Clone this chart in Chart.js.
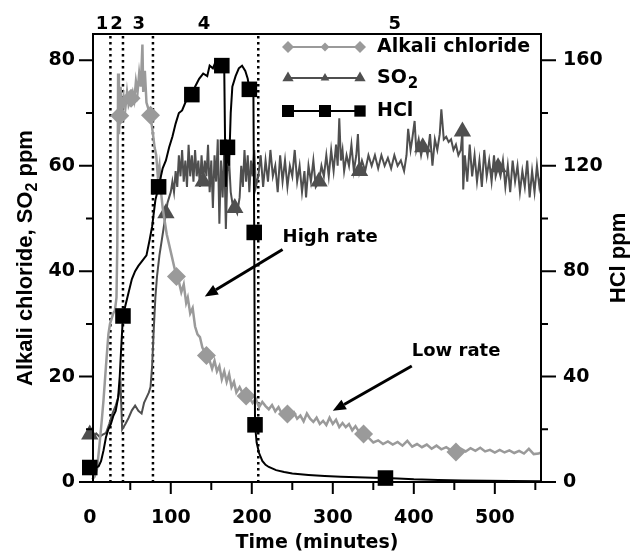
<!DOCTYPE html>
<html>
<head>
<meta charset="utf-8">
<script src="https://cdn.jsdelivr.net/npm/chart.js@4.4.1/dist/chart.umd.min.js"></script>
<style>
  html, body { margin: 0; padding: 0; background: #fff; }
  #wrap { width: 632px; height: 554px; }
</style>
</head>
<body>
<div id="wrap"><canvas id="chart" width="632" height="554"></canvas></div>
<script>
// ---- data ----
const seriesNames = ['Alkali chloride', 'SO2', 'HCl'];

const alkaliT = [0, 3, 6, 9, 12, 15, 17, 20, 23, 25,
  27, 29, 31, 33, 34, 35, 36, 37, 38, 40,
  42, 44, 46, 48, 51, 53, 55, 57, 59, 61,
  63, 65, 66, 68, 70, 72, 75, 78, 80, 82,
  84, 86, 88, 90, 92, 95, 98, 101, 104, 107,
  110, 113, 116, 119, 121, 124, 127, 130, 133, 136,
  139, 144, 148, 151, 154, 157, 160, 163, 166, 169,
  172, 175, 178, 181, 185, 189, 193, 197, 201, 205,
  209, 213, 217, 221, 225, 229, 233, 237, 241, 244,
  248, 252, 256, 260, 264, 268, 272, 276, 280, 284,
  288, 292, 296, 300, 304, 308, 312, 316, 320, 324,
  328, 332, 338, 344, 350, 356, 362, 368, 374, 380,
  386, 392, 398, 404, 410, 416, 422, 428, 434, 440,
  446, 452, 458, 464, 470, 476, 482, 488, 494, 500,
  506, 512, 518, 524, 530, 536, 542, 548, 554, 557];
const alkaliV = [0, 0.5, 1, 2.5, 7, 12, 15.6, 22, 28, 30,
  31, 32, 32.5, 35, 45, 77.5, 66, 69.5, 75, 70,
  73, 71, 74, 71.5, 72.8, 74, 72.5, 76, 74, 77.5,
  75, 83, 74, 78, 72, 71, 69.6, 66, 63.5, 62,
  58, 60, 55, 52, 50, 47, 45, 43, 41, 39,
  38, 36, 37.5, 34, 35, 32, 33, 29.5, 28, 27.5,
  25.5, 24, 23, 21.5, 23, 21, 22, 19.5, 21, 19,
  20.5, 18, 19, 17, 18, 16.8, 16.3, 16, 15, 15.8,
  14.2, 15.2, 14.4, 13.8, 14.6, 13.4, 14.2, 13, 13.6, 12.9,
  12.5, 13.2, 12, 12.6, 11.5, 13, 12, 11.4, 12.2, 11,
  11.6, 10.8, 12.2, 11, 11.8, 10.4, 11.2, 10.4, 11, 9.8,
  10.6, 9.6, 9.1, 8.4, 7.5, 7.9, 7.2, 7.7, 7.1, 7.6,
  6.9, 7.8, 6.7, 7.2, 6.6, 7.1, 6.3, 6.9, 6.2, 6.6,
  6, 5.7, 6.3, 5.8, 6.4, 5.9, 6.5, 5.8, 6.1, 5.6,
  6.1, 5.6, 6, 5.5, 5.9, 5.4, 6.3, 5.3, 5.4, 5.6];
const alkaliMarkT = [0, 37, 51, 75, 107, 144, 193, 244, 338, 452];

const so2T = [0, 4, 8, 12, 16, 20, 24, 28, 32, 35,
  38, 40, 44, 48, 52, 56, 60, 64, 67, 70,
  73, 75, 77, 79, 81, 83, 86, 89, 92, 94,
  96, 98, 100, 102, 104, 106, 108, 110, 112, 114,
  116, 118, 120, 122, 124, 126, 128, 130, 132, 134,
  136, 138, 140, 142, 144, 146, 148, 150, 152, 154,
  156, 158, 160, 162, 164, 166, 168, 170, 172, 174,
  176, 179, 182, 185, 187, 189, 191, 193, 195, 197,
  199, 201, 203, 205, 208, 211, 214, 217, 220, 223,
  226, 229, 232, 235, 238, 241, 244, 247, 250, 253,
  256, 259, 262, 265, 267, 270, 273, 276, 279, 283,
  286, 289, 292, 295, 298, 301, 304, 306, 308, 310,
  312, 314, 317, 320, 323, 326, 329, 331, 333, 336,
  340, 344, 348, 352, 356, 360, 364, 368, 372, 376,
  380, 384, 388, 391, 393, 396, 398, 401, 403, 406,
  409, 411, 414, 417, 420, 423, 426, 429, 432, 434,
  437, 440, 443, 446, 449, 452, 455, 458, 460, 461,
  463, 466, 469, 472, 475, 478, 481, 484, 487, 490,
  493, 496, 499, 501, 504, 507, 510, 513, 516, 519,
  522, 525, 528, 531, 534, 537, 540, 543, 546, 549,
  552, 555, 557];
const so2V = [9, 8.5, 9.2, 8.6, 9, 9.3, 11, 13, 14.5, 16,
  18.4, 10, 11, 12.2, 13.6, 14.5, 13.5, 13, 15, 16,
  17, 18, 22, 29, 35, 39, 43, 46, 49, 51,
  53, 54, 55, 57, 55, 59, 56, 62, 58, 63,
  57, 61, 56, 64, 58, 62, 57, 63, 58, 61,
  56, 62, 57, 61, 58, 64, 55, 61, 52, 62,
  57, 65, 49, 61, 54, 63, 48, 59, 61, 55,
  53, 52, 51, 54, 60, 56, 63, 57, 62, 55,
  61, 58, 63, 56, 58, 62, 56, 61, 57, 63,
  58, 60, 55, 62, 57, 61, 56, 60, 58, 63,
  57, 60, 55, 59, 54, 60, 57, 61, 56, 57,
  60, 58, 62, 58, 63, 59, 64, 60, 69, 61,
  63, 59, 62, 60, 64, 59, 62, 66, 59, 61,
  59, 62, 60, 62, 59.5, 62, 60, 61.5, 59.5, 62,
  60, 61, 59, 62, 67, 63, 65, 68.5, 63, 65,
  62, 63.5, 64, 62, 66, 60, 65, 63, 66, 70.7,
  65, 65.5, 64.5, 65, 63, 64, 62, 63, 66.5, 55.5,
  62, 57, 64, 58, 62, 57, 61, 56, 63, 58,
  61, 57, 62, 58, 59.7, 58, 61, 56, 60, 55,
  61, 57, 60, 55, 59, 56, 61, 54, 59, 55,
  60, 56, 58];
const so2MarkT = [0, 94, 140, 179, 283, 333, 411, 460, 504];

const hclT = [0, 4, 8, 11, 14, 17, 20, 23, 26, 29,
  32, 35, 37, 39, 41, 44, 48, 52, 56, 60,
  65, 70, 74, 77, 81, 85, 90, 94, 98, 102,
  106, 110, 114, 118, 122, 126, 130, 135, 140, 145,
  148, 152, 156, 160, 163, 166, 167, 168, 170, 172,
  174, 176, 180, 184, 188, 192, 195, 197, 200, 202,
  203, 204, 206, 209, 213, 217, 221, 230, 240, 250,
  270, 290, 310, 330, 350, 365, 380, 400, 430, 460,
  490, 520, 557];
const hclV = [5.5, 5, 5.5, 6, 8, 12, 17, 20, 22, 25,
  27, 32, 40, 52, 63, 67, 72, 77, 80, 82,
  84, 86, 92, 97, 107, 112, 119, 122, 127, 131,
  136, 140, 141, 144, 146, 147, 150, 153, 155, 154,
  158, 157, 160, 159, 158, 157, 130, 112, 127, 120,
  140, 150, 154, 157, 158, 156, 153, 149, 150, 148,
  94.7, 21.7, 15, 11, 8, 6.5, 5.7, 4.5, 3.8, 3.2,
  2.7, 2.3, 2, 1.8, 1.6, 1.5, 1.3, 1, 0.8, 0.6,
  0.5, 0.4, 0.3];
const hclMarkT = [0, 41, 85, 126, 163, 170, 197, 203, 204, 365];

const xTicks = [0, 100, 200, 300, 400, 500];
const xMinorTicks = [50, 150, 250, 350, 450, 550];
const leftTicks = [0, 20, 40, 60, 80];
const leftMinorTicks = [10, 30, 50, 70];
const rightTicks = [0, 40, 80, 120, 160];
const rightMinorTicks = [20, 60, 100, 140];

const phaseLabels = ['1', '2', '3', '4', '5'];
const phaseLabelT = [15, 33, 60.5, 141, 376.5];
const phaseDividerT = [25.5, 41, 78, 208];

const colors = { alkali: '#9a9a9a', so2: '#4f4f4f', hcl: '#000000' };

const tickFont = { family: 'DejaVu Sans', weight: 'bold', size: 19 };

function makeSeries(ts, vs) {
    return ts.map((t, i) => ({ x: t, y: vs[i] }));
}

function markerRadius(list, r) {
    return ctx => (ctx.raw && list.includes(ctx.raw.x)) ? r : 0;
}

// drawing of the frame, minor ticks, legend, titles and notes
const decorPlugin = {
    id: 'decor',
    beforeDatasetsDraw(chart) {
        const { ctx, chartArea: a, scales } = chart;
        ctx.save();
        ctx.strokeStyle = '#000';
        ctx.lineWidth = 2.5;
        ctx.setLineDash([2.5, 3.5]);
        phaseDividerT.forEach(t => {
            const x = scales.x.getPixelForValue(t);
            ctx.beginPath();
            ctx.moveTo(x, a.top + 2);
            ctx.lineTo(x, a.bottom);
            ctx.stroke();
        });
        ctx.restore();
    },
    afterDraw(chart) {
        const { ctx, chartArea: a, scales } = chart;
        const sx = scales.x, sy = scales.y, sy2 = scales.y2;
        ctx.save();

        // frame
        ctx.strokeStyle = '#000';
        ctx.lineWidth = 2;
        ctx.strokeRect(a.left, a.top, a.right - a.left, a.bottom - a.top);

        // tick marks
        ctx.lineWidth = 2;
        ctx.beginPath();
        leftTicks.forEach(v => { const y = sy.getPixelForValue(v); ctx.moveTo(a.left, y); ctx.lineTo(a.left - 14, y); });
        leftMinorTicks.forEach(v => { const y = sy.getPixelForValue(v); ctx.moveTo(a.left, y); ctx.lineTo(a.left - 7, y); });
        rightTicks.forEach(v => { const y = sy2.getPixelForValue(v); ctx.moveTo(a.right, y); ctx.lineTo(a.right + 15, y); });
        rightMinorTicks.forEach(v => { const y = sy2.getPixelForValue(v); ctx.moveTo(a.right, y); ctx.lineTo(a.right + 7, y); });
        xTicks.forEach(v => { if (v < sx.min) return; const x = sx.getPixelForValue(v); ctx.moveTo(x, a.bottom); ctx.lineTo(x, a.bottom + 12); });
        xMinorTicks.forEach(v => { const x = sx.getPixelForValue(v); ctx.moveTo(x, a.bottom); ctx.lineTo(x, a.bottom + 8); });
        ctx.stroke();

        // phase numbers above the plot
        ctx.fillStyle = '#000';
        ctx.font = 'bold 18px "DejaVu Sans"';
        ctx.textAlign = 'center';
        ctx.textBaseline = 'middle';
        phaseLabels.forEach((lab, i) => {
            ctx.fillText(lab, sx.getPixelForValue(phaseLabelT[i]), 24);
        });

        // x axis title
        ctx.font = 'bold 19px "DejaVu Sans"';
        ctx.fillText('Time (minutes)', (a.left + a.right) / 2, 543);

        // legend
        const legendRows = [
            { name: seriesNames[0], color: colors.alkali, style: 'rectRot', r: [6, 4.5, 6], y: 47 },
            { name: seriesNames[1], color: colors.so2, style: 'triangle', r: [6.5, 5, 6.5], y: 78 },
            { name: seriesNames[2], color: colors.hcl, style: 'rect', r: [8.5, 8.5, 8], y: 111 }
        ];
        const lx = [288, 325, 360];
        legendRows.forEach(row => {
            ctx.strokeStyle = row.color;
            ctx.fillStyle = row.color;
            ctx.lineWidth = 2;
            ctx.beginPath();
            ctx.moveTo(lx[0], row.y);
            ctx.lineTo(lx[2], row.y);
            ctx.stroke();
            lx.forEach((x, k) => {
                Chart.helpers.drawPoint(ctx, { pointStyle: row.style, radius: row.r[k], rotation: 0, borderWidth: 0 }, x, row.y);
            });
            ctx.fillStyle = '#000';
            ctx.textAlign = 'left';
            ctx.textBaseline = 'middle';
            ctx.font = 'bold 19px "DejaVu Sans"';
            if (row.name === 'SO2') {
                ctx.fillText('SO', 377, row.y);
                const w = ctx.measureText('SO').width;
                ctx.font = 'bold 15px "DejaVu Sans"';
                ctx.fillText('2', 377 + w + 1, row.y + 6);
            } else {
                ctx.fillText(row.name, 377, row.y);
            }
        });

        // left axis title with subscript
        const parts = [
            { t: 'Alkali chloride, SO', f: 'bold 22px "Liberation Sans"', dy: 0 },
            { t: '2', f: 'bold 16px "Liberation Sans"', dy: 5 },
            { t: ' ppm', f: 'bold 22px "Liberation Sans"', dy: 0 }
        ];
        let total = 0;
        parts.forEach(p => { ctx.font = p.f; p.w = ctx.measureText(p.t).width; total += p.w; });
        ctx.save();
        ctx.translate(32, (a.top + a.bottom) / 2);
        ctx.rotate(-Math.PI / 2);
        ctx.textAlign = 'left';
        ctx.textBaseline = 'alphabetic';
        let px = -total / 2;
        parts.forEach(p => { ctx.font = p.f; ctx.fillText(p.t, px, p.dy); px += p.w; });
        ctx.restore();

        // right axis title
        ctx.save();
        ctx.translate(625, (a.top + a.bottom) / 2);
        ctx.rotate(-Math.PI / 2);
        ctx.font = 'bold 22px "Liberation Sans"';
        ctx.textAlign = 'center';
        ctx.textBaseline = 'alphabetic';
        ctx.fillText('HCl ppm', 0, 0);
        ctx.restore();

        // notes with arrows
        const notes = [
            { text: 'High rate', tx: 238, ty: 46.4, from: [238, 44.1], to: [142, 35.2] },
            { text: 'Low rate', tx: 397.5, ty: 24.7, from: [397.5, 22], to: [300, 13.5] }
        ];
        notes.forEach(n => {
            ctx.fillStyle = '#000';
            ctx.font = 'bold 18px "DejaVu Sans"';
            ctx.textAlign = 'left';
            ctx.textBaseline = 'middle';
            ctx.fillText(n.text, sx.getPixelForValue(n.tx), sy.getPixelForValue(n.ty));
            const x1 = sx.getPixelForValue(n.from[0]), y1 = sy.getPixelForValue(n.from[1]);
            const x2 = sx.getPixelForValue(n.to[0]), y2 = sy.getPixelForValue(n.to[1]);
            const ang = Math.atan2(y2 - y1, x2 - x1);
            const hl = 13, hw = 5.5;
            const bx = x2 - hl * Math.cos(ang), by = y2 - hl * Math.sin(ang);
            ctx.strokeStyle = '#000';
            ctx.lineWidth = 3;
            ctx.beginPath();
            ctx.moveTo(x1, y1);
            ctx.lineTo(bx, by);
            ctx.stroke();
            ctx.beginPath();
            ctx.moveTo(x2, y2);
            ctx.lineTo(bx + hw * Math.sin(ang), by - hw * Math.cos(ang));
            ctx.lineTo(bx - hw * Math.sin(ang), by + hw * Math.cos(ang));
            ctx.closePath();
            ctx.fill();
        });

        ctx.restore();
    }
};

new Chart(document.getElementById('chart'), {
    type: 'line',
    data: {
        datasets: [
            {
                label: seriesNames[2],
                data: makeSeries(hclT, hclV),
                yAxisID: 'y2',
                borderColor: colors.hcl,
                backgroundColor: colors.hcl,
                borderWidth: 2,
                pointStyle: 'rect',
                pointRadius: markerRadius(hclMarkT, 11),
                pointBorderWidth: 0,
                clip: false,
                order: 1
            },
            {
                label: seriesNames[0],
                data: makeSeries(alkaliT, alkaliV),
                yAxisID: 'y',
                borderColor: colors.alkali,
                backgroundColor: colors.alkali,
                borderWidth: 2.5,
                pointStyle: 'rectRot',
                pointRadius: markerRadius(alkaliMarkT, 9.5),
                pointBorderWidth: 0,
                clip: false,
                order: 2
            },
            {
                label: seriesNames[1],
                data: makeSeries(so2T, so2V),
                yAxisID: 'y',
                borderColor: colors.so2,
                backgroundColor: colors.so2,
                borderWidth: 2,
                pointStyle: 'triangle',
                pointRadius: markerRadius(so2MarkT, 10),
                pointBorderWidth: 0,
                clip: false,
                order: 3
            }
        ]
    },
    options: {
        responsive: false,
        animation: false,
        devicePixelRatio: 1,
        layout: { padding: { top: 34, left: 0, right: 0, bottom: 0 } },
        elements: { line: { tension: 0 } },
        plugins: { legend: { display: false }, tooltip: { enabled: false } },
        scales: {
            x: {
                type: 'linear',
                min: 4,
                max: 557,
                grid: { display: false, drawTicks: false },
                border: { display: false },
                ticks: { font: tickFont, color: '#000', padding: 25, autoSkip: false, maxRotation: 0, includeBounds: false },
                afterBuildTicks: s => { s.ticks = xTicks.map(v => ({ value: v })); },
                afterFit: s => { s.height = 72; }
            },
            y: {
                position: 'left',
                min: 0,
                max: 85,
                grid: { display: false, drawTicks: false },
                border: { display: false },
                ticks: { font: tickFont, color: '#000', padding: 18, autoSkip: false, includeBounds: false },
                afterBuildTicks: s => { s.ticks = leftTicks.map(v => ({ value: v })); },
                afterFit: s => { s.width = 93; }
            },
            y2: {
                position: 'right',
                min: 0,
                max: 170,
                grid: { display: false, drawTicks: false },
                border: { display: false },
                ticks: { font: tickFont, color: '#000', padding: 22, autoSkip: false, includeBounds: false },
                afterBuildTicks: s => { s.ticks = rightTicks.map(v => ({ value: v })); },
                afterFit: s => { s.width = 91; }
            }
        }
    },
    plugins: [decorPlugin]
});
</script>
</body>
</html>
